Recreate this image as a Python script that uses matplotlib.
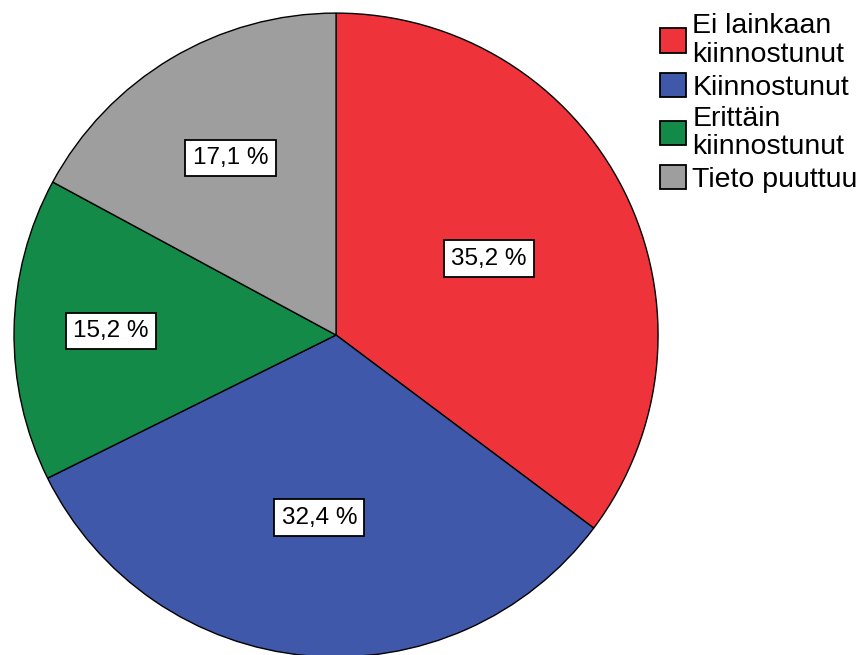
import numpy as np
import matplotlib
matplotlib.use('Agg')
from matplotlib import pyplot as plt
from matplotlib.patches import Patch

plt.rcParams['font.family'] = ['Liberation Sans', 'DejaVu Sans']

labels = ['Ei lainkaan\nkiinnostunut', 'Kiinnostunut', 'Erittäin\nkiinnostunut', 'Tieto puuttuu']
values = [35.2, 32.4, 15.2, 17.1]
pct_text = ['35,2 %', '32,4 %', '15,2 %', '17,1 %']
colors = ['#EF333B', '#3F58AA', '#138A48', '#9E9E9E']
label_r = [0.53, 0.57, 0.70, 0.64]

fig = plt.figure(figsize=(8.61, 6.55), dpi=100)
ax = fig.add_axes([0.0163, -0.003, 0.748, 0.983])
wedges, _ = ax.pie(values, colors=colors, startangle=90, counterclock=False,
                   radius=1, wedgeprops={'edgecolor': 'black', 'linewidth': 1})
ax.set_xlim(-1, 1)
ax.set_ylim(-1, 1)
ax.set_aspect('auto')
ax.axis('off')

for w, txt, r in zip(wedges, pct_text, label_r):
    ang = np.deg2rad((w.theta1 + w.theta2) / 2)
    ax.text(r * np.cos(ang), r * np.sin(ang), txt, ha='center', va='center', fontsize=17.5,
            bbox=dict(boxstyle='square,pad=0.3', facecolor='white', edgecolor='black', linewidth=1.3))

handles = [Patch(facecolor=c, edgecolor='black', linewidth=1.3) for c in colors]
leg = fig.legend(handles, labels, loc='upper left', bbox_to_anchor=(0.766, 0.98), frameon=False,
                 fontsize=20.5, handlelength=0.93, handleheight=0.93, handletextpad=0.22,
                 labelspacing=0.18, borderpad=0, borderaxespad=0)
for t in leg.get_texts():
    t.set_linespacing(1.12)

plt.savefig('out.png')
